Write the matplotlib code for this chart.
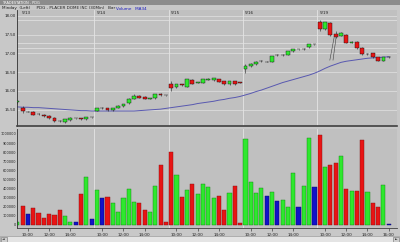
import numpy as np
import matplotlib.pyplot as plt
from matplotlib.patches import Rectangle

# 30 minute bars, PDG, 5/12 last bar + 5 sessions of 14 bars
opens = [15.69, 15.55, 15.44, 15.43, 15.39, 15.36, 15.33, 15.28, 15.20, 15.17, 15.22, 15.26, 15.26, 15.24, 15.29,
         15.47, 15.54, 15.53, 15.48, 15.54, 15.59, 15.67, 15.78, 15.86, 15.83, 15.79, 15.80, 15.91, 15.89,
         16.17, 16.09, 16.17, 16.11, 16.30, 16.21, 16.22, 16.30, 16.28, 16.31, 16.25, 16.17, 16.25, 16.23,
         16.57, 16.65, 16.71, 16.79, 16.78, 16.78, 16.96, 16.95, 16.96, 17.06, 17.11, 17.11, 17.16, 17.24,
         17.83, 17.65, 17.82, 17.52, 17.47, 17.49, 17.28, 17.30, 17.14, 16.98, 17.00, 16.90, 16.80, 16.91]
highs = [15.74, 15.60, 15.46, 15.45, 15.41, 15.38, 15.35, 15.30, 15.22, 15.25, 15.29, 15.28, 15.27, 15.31, 15.30,
         15.55, 15.56, 15.55, 15.55, 15.61, 15.66, 15.80, 15.92, 15.88, 15.85, 15.82, 15.92, 15.93, 15.90,
         16.27, 16.18, 16.18, 16.32, 16.32, 16.24, 16.32, 16.33, 16.35, 16.32, 16.26, 16.26, 16.26, 16.24,
         16.71, 16.73, 16.79, 16.82, 16.80, 16.94, 16.98, 16.98, 17.07, 17.12, 17.13, 17.14, 17.25, 17.26,
         17.90, 17.85, 17.84, 17.60, 17.56, 17.51, 17.33, 17.32, 17.16, 17.02, 17.02, 16.91, 16.91, 16.93]
lows = [15.66, 15.40, 15.42, 15.34, 15.35, 15.30, 15.25, 15.17, 15.16, 15.15, 15.20, 15.24, 15.23, 15.23, 15.28,
        15.45, 15.52, 15.46, 15.47, 15.53, 15.58, 15.66, 15.77, 15.80, 15.78, 15.77, 15.79, 15.87, 15.86,
        15.99, 16.08, 16.14, 16.10, 16.18, 16.20, 16.21, 16.29, 16.27, 16.23, 16.16, 16.16, 16.16, 16.21,
        16.48, 16.64, 16.70, 16.78, 16.76, 16.77, 16.94, 16.94, 16.95, 17.05, 17.09, 17.10, 17.15, 17.23,
        17.60, 17.63, 17.47, 17.40, 17.46, 17.28, 17.27, 17.13, 16.97, 16.97, 16.89, 16.79, 16.79, 16.89]
closes = [15.72, 15.45, 15.44, 15.36, 15.37, 15.32, 15.27, 15.19, 15.18, 15.24, 15.28, 15.26, 15.25, 15.30, 15.29,
          15.54, 15.54, 15.48, 15.54, 15.60, 15.65, 15.79, 15.86, 15.81, 15.79, 15.81, 15.91, 15.88, 15.88,
          16.08, 16.17, 16.15, 16.31, 16.19, 16.23, 16.31, 16.32, 16.33, 16.24, 16.17, 16.25, 16.17, 16.22,
          16.67, 16.72, 16.78, 16.80, 16.78, 16.93, 16.96, 16.96, 17.06, 17.11, 17.11, 17.12, 17.24, 17.24,
          17.64, 17.83, 17.49, 17.43, 17.54, 17.29, 17.30, 17.14, 16.98, 16.99, 16.90, 16.80, 16.90, 16.91]
volumes = [30e3, 212e3, 118e3, 183e3, 135e3, 80e3, 118e3, 107e3, 165e3, 99e3, 33e3, 33e3, 340e3, 527e3, 66e3,
           385e3, 293e3, 308e3, 238e3, 140e3, 300e3, 396e3, 249e3, 245e3, 161e3, 140e3, 428e3, 663e3, 33e3,
           802e3, 546e3, 308e3, 381e3, 451e3, 340e3, 447e3, 418e3, 300e3, 319e3, 161e3, 348e3, 428e3, 25e3,
           945e3, 469e3, 348e3, 403e3, 319e3, 366e3, 260e3, 271e3, 198e3, 575e3, 194e3, 428e3, 956e3, 414e3,
           992e3, 637e3, 659e3, 685e3, 758e3, 392e3, 374e3, 370e3, 937e3, 359e3, 242e3, 198e3, 440e3, 15e3]
ma34 = [15.57, 15.56, 15.56, 15.55, 15.55, 15.54, 15.53, 15.52, 15.51, 15.50, 15.49, 15.48, 15.47, 15.47, 15.46,
        15.46, 15.46, 15.46, 15.46, 15.46, 15.46, 15.46, 15.46, 15.47, 15.48, 15.49, 15.50, 15.51, 15.53,
        15.55, 15.57, 15.59, 15.61, 15.63, 15.66, 15.68, 15.70, 15.72, 15.75, 15.77, 15.80, 15.82, 15.85,
        15.89, 15.93, 15.98, 16.02, 16.07, 16.12, 16.17, 16.22, 16.26, 16.30, 16.34, 16.38, 16.42, 16.47,
        16.53, 16.60, 16.66, 16.71, 16.76, 16.79, 16.81, 16.83, 16.85, 16.87, 16.88, 16.89, 16.90, 16.91]

day_labels = ['5/13', '5/14', '5/15', '5/16', '5/19']
day_starts = [1, 15, 29, 43, 57]
price_ticks = [15.5, 16.0, 16.5, 17.0, 17.5, 18.0]
level_lines = [17.90, 17.28, 17.14]
vol_ticks = [0, 100000, 200000, 300000, 400000, 500000, 600000, 700000, 800000, 900000, 1000000]
# hand drawn trend lines (bar index, price)
trend_x = [[58.9, 59.7], [59.5, 60.1]]
trend_y = [[16.82, 17.42], [16.82, 17.45]]

W, H = 400, 242
GREEN, RED, BLUE = '#2ee82e', '#e81414', '#1212c8'
PANEL = '#c0c0c0'

o = np.array(opens); c = np.array(closes)
x = np.arange(len(opens))
cols = np.where(c > o, GREEN, np.where(c < o, RED, BLUE))

fig = plt.figure(figsize=(W / 100, H / 100), dpi=100)
fig.patch.set_facecolor('#c8c8c8')

def fr(l, t, r, b):
    return [l / W, 1 - b / H, (r - l) / W, (b - t) / H]

ax = fig.add_axes(fr(17, 10, 397, 126))
vax = fig.add_axes(fr(17, 129, 397, 228), sharex=ax)

# price panel
ax.set_facecolor(PANEL)
for p in price_ticks:
    ax.axhline(p, color='#dcdcdc', lw=0.6, zorder=0)
for p in level_lines:
    ax.axhline(p, color='#e4e4e4', lw=0.5, zorder=0)
ax.vlines(x, lows, highs, color='#202020', lw=0.4, zorder=2)
ax.bar(x, np.maximum(np.abs(c - o), 0.001), bottom=np.minimum(o, c), width=0.72,
       color=cols, edgecolor='#101010', linewidth=0.3, zorder=3)
ax.plot(x, ma34, color='#5858b0', lw=0.7, zorder=1)
for tx, ty in zip(trend_x, trend_y):
    ax.plot(tx, ty, color='#404040', lw=0.4, zorder=4)
ax.set_ylim(15.059, 18.16)
ax.set_xlim(-0.06, 71.56)
ax.set_yticks(price_ticks)
ax.set_yticklabels(['%.2f' % p for p in price_ticks])
for s in day_starts[1:]:
    ax.axvline(s - 0.5, color='#e4e4e4', lw=0.6, zorder=0)
    vax.axvline(s - 0.5, color='#e4e4e4', lw=0.6, zorder=0)
for s, lab in zip(day_starts, day_labels):
    ax.text(s - 0.1, 18.09, lab, fontsize=3, va='center', ha='left', color='#202020')

# volume panel
vax.set_facecolor(PANEL)
edge = np.where(cols == GREEN, '#108010', np.where(cols == RED, '#801010', '#080860'))
vax.bar(x, volumes, width=0.78, color=cols, edgecolor=edge, linewidth=0.3, zorder=2)
vax.set_ylim(-33000, 1054900)
vax.set_yticks(vol_ticks)
vax.set_yticklabels([str(v) for v in vol_ticks])

tpos, tlab = [], []
for s in day_starts:
    tpos += [s + 1, s + 5, s + 9]
    tlab += ['10:00', '12:00', '14:00']
tpos.append(day_starts[-1] + 13)
tlab.append('16:00')
vax.set_xticks(tpos)
vax.set_xticklabels(tlab)

for a in (ax, vax):
    for sp in a.spines.values():
        sp.set_visible(False)
    a.spines['left'].set_visible(True)
    a.spines['left'].set_color('#303030')
    a.spines['left'].set_linewidth(0.6)
    a.tick_params(axis='y', length=0, pad=0.8, colors='#202020')
ax.tick_params(axis='y', labelsize=2.9)
vax.tick_params(axis='y', labelsize=2.5)
ax.spines['bottom'].set_visible(True)
ax.spines['bottom'].set_color('#404040')
ax.spines['bottom'].set_linewidth(1.2)
ax.tick_params(axis='x', bottom=False, labelbottom=False)
vax.spines['bottom'].set_visible(True)
vax.spines['bottom'].set_color('#404040')
vax.spines['bottom'].set_linewidth(0.6)
vax.tick_params(axis='x', length=2, width=0.4, pad=1.5, labelsize=3, colors='#202020')

# window chrome: title bar, header, scrollbar
fig.patches.append(Rectangle((0, 1 - 5 / H), 1, 5 / H, transform=fig.transFigure,
                             facecolor='#8c8c8c', edgecolor='none'))
fig.text(2 / W, 1 - 2.5 / H, 'TRADESTATION - PDG', fontsize=2.5, color='white', va='center')
fig.text(2 / W, 1 - 8.5 / H, 'Minday  (Left)     PDG - PLACER DOME INC (30Min)   Bar', fontsize=3,
         color='#202020', va='center')
fig.text(116 / W, 1 - 8.5 / H, 'Volume   MA34', fontsize=3, color='#1818c0', va='center')
fig.patches.append(Rectangle((0, 0), 1, 6 / H, transform=fig.transFigure,
                             facecolor='#e4e4e4', edgecolor='#909090', lw=0.4))
fig.patches.append(Rectangle((0.5 / W, 0.5 / H), 6 / W, 5 / H, transform=fig.transFigure,
                             facecolor='#cfcfcf', edgecolor='#707070', lw=0.4))
fig.patches.append(Rectangle((393 / W, 0.5 / H), 6 / W, 5 / H, transform=fig.transFigure,
                             facecolor='#cfcfcf', edgecolor='#707070', lw=0.4))
fig.text(3.5 / W, 3 / H, '\u25c4', fontsize=2.5, ha='center', va='center', color='#202020')
fig.text(396 / W, 3 / H, '\u25ba', fontsize=2.5, ha='center', va='center', color='#202020')

fig.savefig('out.png', dpi=100, facecolor=fig.get_facecolor())
